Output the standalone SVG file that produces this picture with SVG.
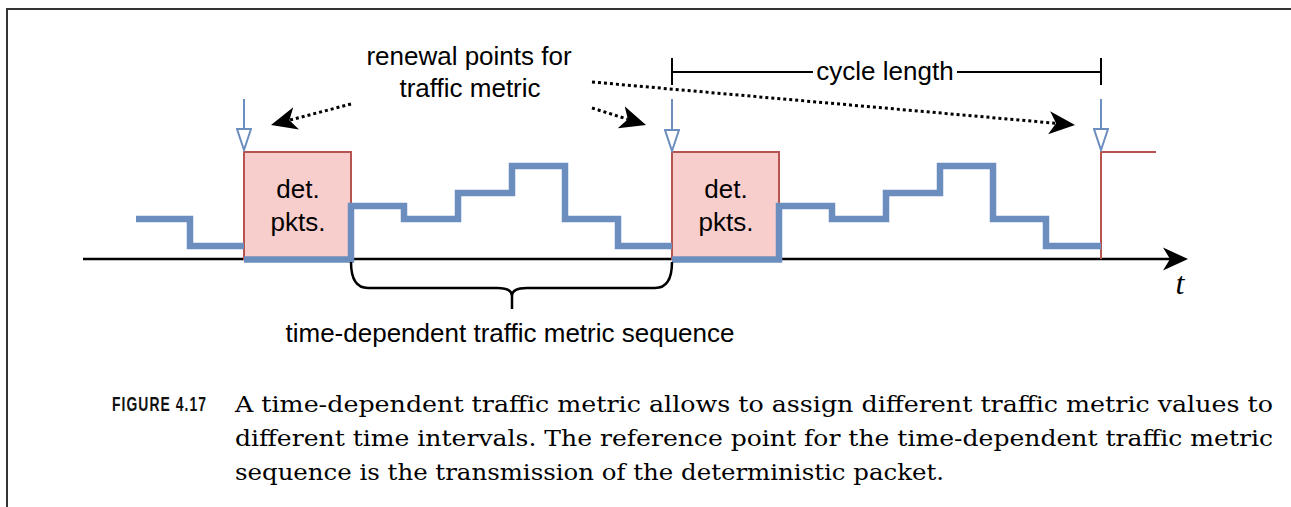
<svg xmlns="http://www.w3.org/2000/svg" width="1291" height="507" viewBox="0 0 1291 507">
<style>
.lbl{font-family:"Liberation Sans",Arial,sans-serif;font-size:26px;fill:#000;text-anchor:middle}
.cap{font-family:"DejaVu Serif","Liberation Serif",serif;font-size:23px;fill:#000}
.blue{fill:none;stroke:#6c8ebf;stroke-width:6.5;stroke-linejoin:miter;stroke-linecap:butt}
.pkt{fill:#f8cecc;stroke:#b85450;stroke-width:2}
.dot{fill:none;stroke:#000;stroke-width:3;stroke-dasharray:3 3}
.ren{fill:none;stroke:#6c8ebf;stroke-width:2}
</style>
<defs>
<marker id="open" markerUnits="userSpaceOnUse" markerWidth="24" markerHeight="16" viewBox="0 0 24 16" refX="22" refY="8" orient="auto">
<path d="M1,1 L22,8 L1,15 Z" fill="#fff" stroke="#6c8ebf" stroke-width="2"/>
</marker>
<marker id="classic" markerUnits="userSpaceOnUse" markerWidth="27" markerHeight="24" viewBox="0 0 27 24" refX="7" refY="12" orient="auto">
<path d="M0,0.5 L26,12 L0,23.5 L7,12 Z" fill="#000"/>
</marker>
<marker id="axisHead" markerUnits="userSpaceOnUse" markerWidth="26" markerHeight="24" viewBox="0 0 26 24" refX="7" refY="12" orient="auto">
<path d="M0,0.5 L25,12 L0,23.5 L7,12 Z" fill="#000"/>
</marker>
</defs>

<g id="frame" fill="none" stroke="#333" stroke-width="2">
<path d="M1291,9 H7 V507"/>
</g>

<g id="axis">
<path d="M83,259 H1170" fill="none" stroke="#000" stroke-width="2.5" marker-end="url(#axisHead)"/>
<text x="1180" y="294" font-family="Liberation Serif,serif" font-style="italic" font-size="32" text-anchor="middle">t</text>
</g>

<g id="pkt1">
<rect class="pkt" x="244" y="152" width="107" height="107"/>
<text class="lbl" x="298" y="198">det.</text>
<text class="lbl" x="298" y="231">pkts.</text>
</g>
<g id="pkt2">
<rect class="pkt" x="672" y="152" width="107" height="107"/>
<text class="lbl" x="726" y="198">det.</text>
<text class="lbl" x="726" y="231">pkts.</text>
</g>
<g id="pkt3">
<path d="M1101,259 V152 H1156" fill="none" stroke="#b85450" stroke-width="2"/>
</g>

<g id="metric">
<path class="blue" d="M136,219 H190 V246 H244"/>
<path class="blue" d="M244,259.5 H351 V206 H404 V219 H458 V193 H512 V166 H565 V219 H618 V246 H672"/>
<path class="blue" d="M672,259.5 H779 V206 H832 V219 H886 V193 H940 V166 H993 V219 H1046 V246 H1101"/>
</g>

<g id="renewal-markers">
<path class="ren" d="M244,99 V150" marker-end="url(#open)"/>
<path class="ren" d="M672,99 V151" marker-end="url(#open)"/>
<path class="ren" d="M1101,99 V150" marker-end="url(#open)"/>
</g>

<g id="renewal-label">
<text class="lbl" x="469" y="65">renewal points for</text>
<text class="lbl" x="470" y="97">traffic metric</text>
</g>

<g id="connectors">
<path class="dot" d="M351,104 L289.4,120.2" marker-end="url(#classic)"/>
<path class="dot" d="M592,108 L627.9,119.3" marker-end="url(#classic)"/>
<path class="dot" d="M592,82 L1056.1,123.3" marker-end="url(#classic)"/>
</g>

<g id="cycle-length">
<path d="M672,58 V85 M1101,58 V85 M672,72 H813 M957,72 H1101" fill="none" stroke="#000" stroke-width="2"/>
<text class="lbl" x="885" y="80">cycle length</text>
</g>

<g id="sequence-brace">
<path d="M351,262 Q351,288 368,288 H497 Q512,288 512,296 V309 M512,296 Q512,288 527,288 H655 Q672,288 672,262" fill="none" stroke="#000" stroke-width="2.5"/>
<text class="lbl" x="510" y="342">time-dependent traffic metric sequence</text>
</g>

<g id="caption">
<text x="112" y="411" font-family="Liberation Sans,Arial,sans-serif" font-weight="bold" font-size="20" letter-spacing="1.5" textLength="95" lengthAdjust="spacingAndGlyphs" fill="#111">FIGURE 4.17</text>
<text class="cap" x="235" y="412" textLength="1038" lengthAdjust="spacingAndGlyphs">A time-dependent traffic metric allows to assign different traffic metric values to</text>
<text class="cap" x="235" y="446" textLength="1038" lengthAdjust="spacingAndGlyphs">different time intervals. The reference point for the time-dependent traffic metric</text>
<text class="cap" x="235" y="480" textLength="709" lengthAdjust="spacingAndGlyphs">sequence is the transmission of the deterministic packet.</text>
</g>
</svg>
